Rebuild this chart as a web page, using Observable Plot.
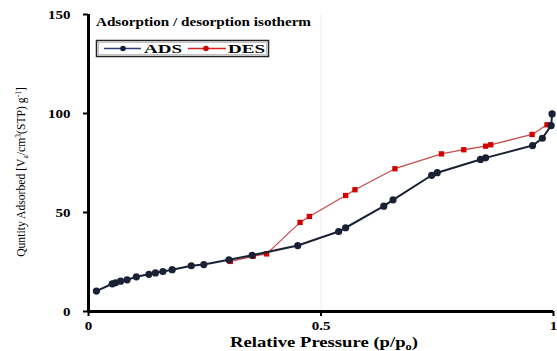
<!DOCTYPE html>
<html>
<head>
<meta charset="utf-8">
<script src="https://cdn.jsdelivr.net/npm/d3@7"></script>
<script src="https://cdn.jsdelivr.net/npm/@observablehq/plot@0.6"></script>
<style>
  html, body { margin: 0; padding: 0; background: #fff; }
</style>
</head>
<body>
<div id="chart"></div>
<script>
// ---- data ----
const seriesNames = ["ADS", "DES"];
const adsP = [0.017, 0.051, 0.058, 0.069, 0.083, 0.103, 0.130, 0.144, 0.160, 0.180, 0.221, 0.248, 0.302, 0.352, 0.450, 0.538, 0.553, 0.635, 0.655, 0.738, 0.750, 0.843, 0.854, 0.955, 0.976, 0.995, 0.997];
const adsQ = [10.3, 14.0, 14.5, 15.3, 16.0, 17.5, 18.8, 19.5, 20.2, 21.1, 23.1, 23.7, 26.1, 28.4, 33.3, 40.4, 42.3, 53.2, 56.4, 68.8, 70.1, 76.8, 77.6, 83.8, 87.5, 93.9, 99.8];
const desP = [0.305, 0.354, 0.383, 0.455, 0.475, 0.553, 0.573, 0.659, 0.759, 0.807, 0.854, 0.865, 0.954, 0.986];
const desQ = [25.3, 27.9, 29.1, 45.0, 48.0, 58.6, 61.5, 72.1, 79.6, 81.7, 83.5, 84.2, 89.4, 94.3];
const xTicks = [0, 0.5, 1];
const yTicks = [0, 50, 100, 150];
const titleText = "Adsorption / desorption isotherm";

const ads = adsP.map((p, i) => ({p, q: adsQ[i]}));
const des = desP.map((p, i) => ({p, q: desQ[i]}));

const adsColor = "#1b2134";
const desLine = "#c4504c";
const desMark = "#d40000";

const W = 557, H = 351, mL = 88, mR = 4, mT = 14, mB = 40;
const STRETCH = 1.2;

const chart = Plot.plot({
  width: W,
  height: H,
  marginLeft: mL,
  marginRight: mR,
  marginTop: mT,
  marginBottom: mB,
  style: {fontFamily: "'Liberation Serif', 'Times New Roman', serif", fontSize: "12.5px", fontWeight: "bold", background: "#fff", color: "#000", overflow: "visible"},
  x: {domain: [0, 1]},
  y: {domain: [0, 150]},
  marks: [
    Plot.ruleX([0.5], {stroke: "#eeeeee", strokeWidth: 1}),
    Plot.line(des, {x: "p", y: "q", stroke: desLine, strokeWidth: 1.3}),
    Plot.dot(des, {x: "p", y: "q", symbol: "square", r: 3, fill: desMark, stroke: "none"}),
    Plot.line(ads, {x: "p", y: "q", stroke: adsColor, strokeWidth: 2}),
    Plot.dot(ads, {x: "p", y: "q", r: 3.6, fill: adsColor, stroke: "none"}),
    Plot.axisX({ticks: xTicks, tickSize: 5, tickPadding: 5, tickFormat: d => String(d), label: null, strokeWidth: 2, fontSize: 12.5}),
    Plot.axisY({ticks: yTicks, tickSize: 5, tickPadding: 13, tickFormat: d => String(d), label: null, strokeWidth: 2, fontSize: 12.5}),
    Plot.ruleX([0], {stroke: "#000", strokeWidth: 3}),
    Plot.ruleY([0], {stroke: "#000", strokeWidth: 3})
  ]
});

document.getElementById("chart").appendChild(chart);

const svg = d3.select(chart);
const ff = "'Liberation Serif', 'Times New Roman', serif";

// widen a simple text element horizontally
function widen(sel, target) {
  sel.each(function() {
    const n = this.getComputedTextLength();
    if (n > 0) {
      this.setAttribute("textLength", target != null ? target : n * STRETCH);
      this.setAttribute("lengthAdjust", "spacingAndGlyphs");
    }
  });
}

// stretch the axis tick labels like the reference
widen(svg.selectAll('g[aria-label="x-axis tick label"] text'));
widen(svg.selectAll('g[aria-label="y-axis tick label"] text'));

// title
const title = svg.append("text")
  .attr("x", 96).attr("y", 26)
  .attr("text-anchor", "start")
  .attr("font-family", ff).attr("font-weight", "bold").attr("font-size", 12.5)
  .attr("fill", "#000")
  .text(titleText);
widen(title, 215);

// legend
const lg = svg.append("g").attr("text-anchor", "start");
lg.append("rect").attr("x", 96.5).attr("y", 40.5).attr("width", 172).attr("height", 16)
  .attr("fill", "#fff").attr("stroke", "#222").attr("stroke-width", 1.5);
lg.append("rect").attr("x", 98.5).attr("y", 42.5).attr("width", 168).attr("height", 12)
  .attr("fill", "none").attr("stroke", "#999").attr("stroke-width", 0.6);
lg.append("line").attr("x1", 104).attr("x2", 141).attr("y1", 48.5).attr("y2", 48.5)
  .attr("stroke", "#2c3f7a").attr("stroke-width", 1.6);
lg.append("circle").attr("cx", 123).attr("cy", 48.5).attr("r", 2.8).attr("fill", adsColor);
const t1 = lg.append("text").attr("x", 144).attr("y", 53).attr("font-family", ff).attr("font-weight", "bold")
  .attr("font-size", 12.5).attr("fill", "#000").text(seriesNames[0]);
widen(t1, 38);
lg.append("line").attr("x1", 188).attr("x2", 226).attr("y1", 48.5).attr("y2", 48.5)
  .attr("stroke", "#e02020").attr("stroke-width", 1.6);
lg.append("circle").attr("cx", 206).attr("cy", 48.5).attr("r", 2.8).attr("fill", desMark);
const t2 = lg.append("text").attr("x", 228).attr("y", 53).attr("font-family", ff).attr("font-weight", "bold")
  .attr("font-size", 12.5).attr("fill", "#000").text(seriesNames[1]);
widen(t2, 37);

// x label
const xg = svg.append("g").attr("transform", "translate(324,347)");
const xl = xg.append("text")
  .attr("text-anchor", "middle")
  .attr("font-family", ff).attr("font-weight", "bold").attr("font-size", 15)
  .attr("fill", "#000");
xl.append("tspan").text("Relative Pressure (p/p");
xl.append("tspan").attr("font-size", 10).attr("dy", 3).text("o");
xl.append("tspan").attr("dy", -3).text(")");
const xlen = xl.node().getComputedTextLength();
xl.attr("transform", `scale(${188 / xlen},1)`);

// y label
const yg = svg.append("g").attr("transform", "translate(25,172) rotate(-90)");
const yl = yg.append("text")
  .attr("text-anchor", "middle")
  .attr("font-family", ff).attr("font-size", 13)
  .attr("font-weight", "normal")
  .attr("fill", "#000");
yl.append("tspan").text("Quntity Adsorbed [V");
yl.append("tspan").attr("font-size", 8.5).attr("dy", 2.5).text("a");
yl.append("tspan").attr("dy", -2.5).text("/cm");
yl.append("tspan").attr("font-size", 8.5).attr("dy", -4).text("3");
yl.append("tspan").attr("dy", 4).text("(STP) g");
yl.append("tspan").attr("font-size", 8.5).attr("dy", -4).text("-1");
yl.append("tspan").attr("dy", 4).text("]");
const len = yl.node().getComputedTextLength();
yl.attr("transform", `scale(${170 / len},1)`);
</script>
</body>
</html>
